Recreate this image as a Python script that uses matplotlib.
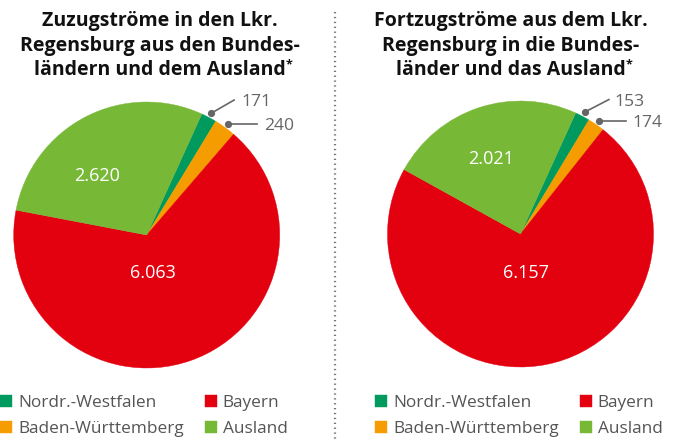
import matplotlib
matplotlib.use("Agg")
import matplotlib.pyplot as plt
from matplotlib.lines import Line2D
import numpy as np

plt.rcParams['font.family'] = ['Open Sans', 'DejaVu Sans']

categories = ['Nordr.-Westfalen', 'Baden-Württemberg', 'Bayern', 'Ausland']
zuzug = [171, 240, 6063, 2620]
fortzug = [153, 174, 6157, 2021]
colors = ['#009a5e', '#f59c00', '#e3000f', '#78b837']

titles = [['Zuzugströme in den Lkr.', 'Regensburg aus den Bundes-', 'ländern und dem Ausland'],
          ['Fortzugströme aus dem Lkr.', 'Regensburg in die Bundes-', 'länder und das Ausland']]

W, H = 685, 441
fig = plt.figure(figsize=(W / 100, H / 100), dpi=100)

def fmt(v):
    return f'{v:,}'.replace(',', '.')

# pie geometry in pixels: centre x, centre y (from top), radius
pies = [(146.7, 235, 133), (520.5, 234, 133)]
# inner label positions (pie radius units) for Ausland and Bayern
inner_pos = [[(-0.376, 0.444), (0.05, -0.283)],
             [(-0.224, 0.567), (0.041, -0.293)]]
# leader offsets for the two small slices
leader_off = [[(0.173, 0.10), (0.218, 0.0)],
              [(0.183, 0.095), (0.208, 0.0)]]
text_gap = [0.053, 0.045]
title_x = [160, 511]
title_base = [26, 50.5, 75]

for k, vals in enumerate([zuzug, fortzug]):
    cx, cy, r = pies[k]
    ax = fig.add_axes([(cx - r) / W, (H - cy - r) / H, 2 * r / W, 2 * r / H])
    wedges, _ = ax.pie(vals, colors=colors, startangle=65.5, counterclock=False,
                       radius=1, wedgeprops=dict(linewidth=0.3))
    for w in wedges:
        w.set_edgecolor(w.get_facecolor())
    ax.set_xlim(-1, 1)
    ax.set_ylim(-1, 1)
    ax.axis('off')

    # big labels (Ausland, Bayern)
    for (x, y), v in zip(inner_pos[k], [vals[3], vals[2]]):
        ax.text(x, y, fmt(v), color='white', fontsize=13, ha='center', va='center')

    # small slices with leader line
    for i in range(2):
        w = wedges[i]
        mid = np.deg2rad((w.theta1 + w.theta2) / 2)
        dx, dy = 1.035 * np.cos(mid), 1.035 * np.sin(mid)
        ox, oy = leader_off[k][i]
        ax.plot([dx, dx + ox], [dy, dy + oy], color='#666666', lw=1.2, clip_on=False)
        ax.plot([dx], [dy], 'o', color='#666666', ms=4.2, clip_on=False)
        ax.text(dx + ox + text_gap[k], dy + oy, fmt(vals[i]), color='#666666',
                fontsize=12.6, ha='left', va='center_baseline', clip_on=False)

    for j, line in enumerate(titles[k]):
        t = fig.text(title_x[k] / W, 1 - title_base[j] / H, line, ha='center',
                     va='baseline', fontsize=14, fontweight='bold', color='#111111')
    ax.annotate('*', xy=(1, 1), xycoords=t, xytext=(0, 1), textcoords='offset points',
                ha='left', va='top', fontsize=9, fontweight='bold', color='#111111',
                annotation_clip=False)

    leg = fig.legend(wedges, categories, ncol=2, frameon=False,
                     loc='upper left',
                     bbox_to_anchor=((0 if k == 0 else 375) / W, 1 - 395 / H),
                     fontsize=12.4, handlelength=0.7, handleheight=0.7,
                     handletextpad=0.35, columnspacing=1.2, labelspacing=0.6,
                     borderpad=0, borderaxespad=0)
    for tx in leg.get_texts():
        tx.set_color('#555555')

fig.add_artist(Line2D([335 / W, 335 / W], [1 - 12 / H, 0], transform=fig.transFigure,
                      color='#777777', lw=1.6, linestyle=(0, (0.6, 1.6))))

fig.savefig('out.png', dpi=100)
